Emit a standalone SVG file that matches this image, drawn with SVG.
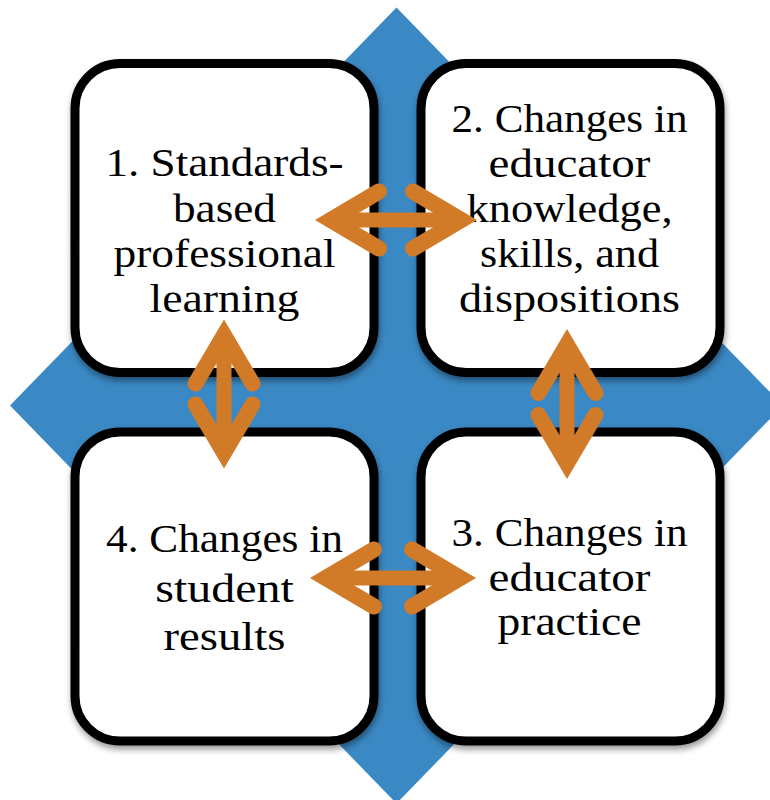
<svg xmlns="http://www.w3.org/2000/svg" width="770" height="800" viewBox="0 0 770 800">
  <style>
    .box { fill: #ffffff; stroke: #000000; stroke-width: 9; filter: url(#shadow); }
    .lbl { font-family: "Liberation Serif", "Times New Roman", serif; font-size: 39px; fill: #000000; text-anchor: middle; }
    .shaft { fill: none; stroke: #D17A28; stroke-width: 15; }
    .head { fill: none; stroke: #D17A28; stroke-width: 16; stroke-linecap: round; stroke-linejoin: miter; stroke-miterlimit: 6; }
  </style>
  <defs>
    <filter id="shadow" x="-10%" y="-10%" width="125%" height="125%">
      <feDropShadow dx="1" dy="4" stdDeviation="3" flood-color="#000000" flood-opacity="0.4"/>
    </filter>
  </defs>
  <rect width="770" height="800" fill="#ffffff"/>
  <path id="diamond" d="M396.5,7.5 L783,405.5 L396.5,803.5 L10,405.5 Z" fill="#3A88C4"/>

  <g id="node1">
    <rect class="box" x="75" y="63.5" width="299" height="309" rx="45" ry="45"/>
    <text class="lbl" x="224.5" y="176" textLength="238" lengthAdjust="spacingAndGlyphs">1. Standards-</text>
    <text class="lbl" x="224.5" y="221.7" textLength="103" lengthAdjust="spacingAndGlyphs">based</text>
    <text class="lbl" x="224.5" y="266.7" textLength="222" lengthAdjust="spacingAndGlyphs">professional</text>
    <text class="lbl" x="224.5" y="311.7" textLength="150" lengthAdjust="spacingAndGlyphs">learning</text>
  </g>
  <g id="node2">
    <rect class="box" x="421" y="63.5" width="299" height="309" rx="45" ry="45"/>
    <text class="lbl" x="569.5" y="131.7" textLength="236" lengthAdjust="spacingAndGlyphs">2. Changes in</text>
    <text class="lbl" x="569.5" y="176.7" textLength="162" lengthAdjust="spacingAndGlyphs">educator</text>
    <text class="lbl" x="569.5" y="221.7" textLength="206" lengthAdjust="spacingAndGlyphs">knowledge,</text>
    <text class="lbl" x="569.5" y="266.7" textLength="179" lengthAdjust="spacingAndGlyphs">skills, and</text>
    <text class="lbl" x="569.5" y="311.7" textLength="221" lengthAdjust="spacingAndGlyphs">dispositions</text>
  </g>
  <g id="node3">
    <rect class="box" x="421" y="432" width="299" height="309" rx="45" ry="45"/>
    <text class="lbl" x="569.5" y="545.7" textLength="236" lengthAdjust="spacingAndGlyphs">3. Changes in</text>
    <text class="lbl" x="569.5" y="591" textLength="162" lengthAdjust="spacingAndGlyphs">educator</text>
    <text class="lbl" x="569.5" y="635" textLength="144" lengthAdjust="spacingAndGlyphs">practice</text>
  </g>
  <g id="node4">
    <rect class="box" x="75" y="432" width="299" height="309" rx="45" ry="45"/>
    <text class="lbl" x="224.5" y="551.7" textLength="237" lengthAdjust="spacingAndGlyphs">4. Changes in</text>
    <text class="lbl" x="224.5" y="601.7" textLength="138.5" lengthAdjust="spacingAndGlyphs">student</text>
    <text class="lbl" x="224.5" y="650" textLength="122" lengthAdjust="spacingAndGlyphs">results</text>
  </g>

  <g id="connectors">
    <g id="arrow-1-2">
      <path class="shaft" d="M330.7,220 H461.3"/>
      <path class="head" d="M379,191.5 L330.7,220 L379,248.5"/>
      <path class="head" d="M413,191.5 L461.3,220 L413,248.5"/>
    </g>
    <g id="arrow-4-3">
      <path class="shaft" d="M325.7,578 H460.3"/>
      <path class="head" d="M374,549.5 L325.7,578 L374,606.5"/>
      <path class="head" d="M412,549.5 L460.3,578 L412,606.5"/>
    </g>
    <g id="arrow-1-4">
      <path class="shaft" d="M224,335.2 V452.8"/>
      <path class="head" d="M195.5,383.5 L224,335.2 L252.5,383.5"/>
      <path class="head" d="M195.5,404.5 L224,452.8 L252.5,404.5"/>
    </g>
    <g id="arrow-2-3">
      <path class="shaft" d="M567,344.7 V463.3"/>
      <path class="head" d="M538.5,393 L567,344.7 L595.5,393"/>
      <path class="head" d="M538.5,415 L567,463.3 L595.5,415"/>
    </g>
  </g>
</svg>
